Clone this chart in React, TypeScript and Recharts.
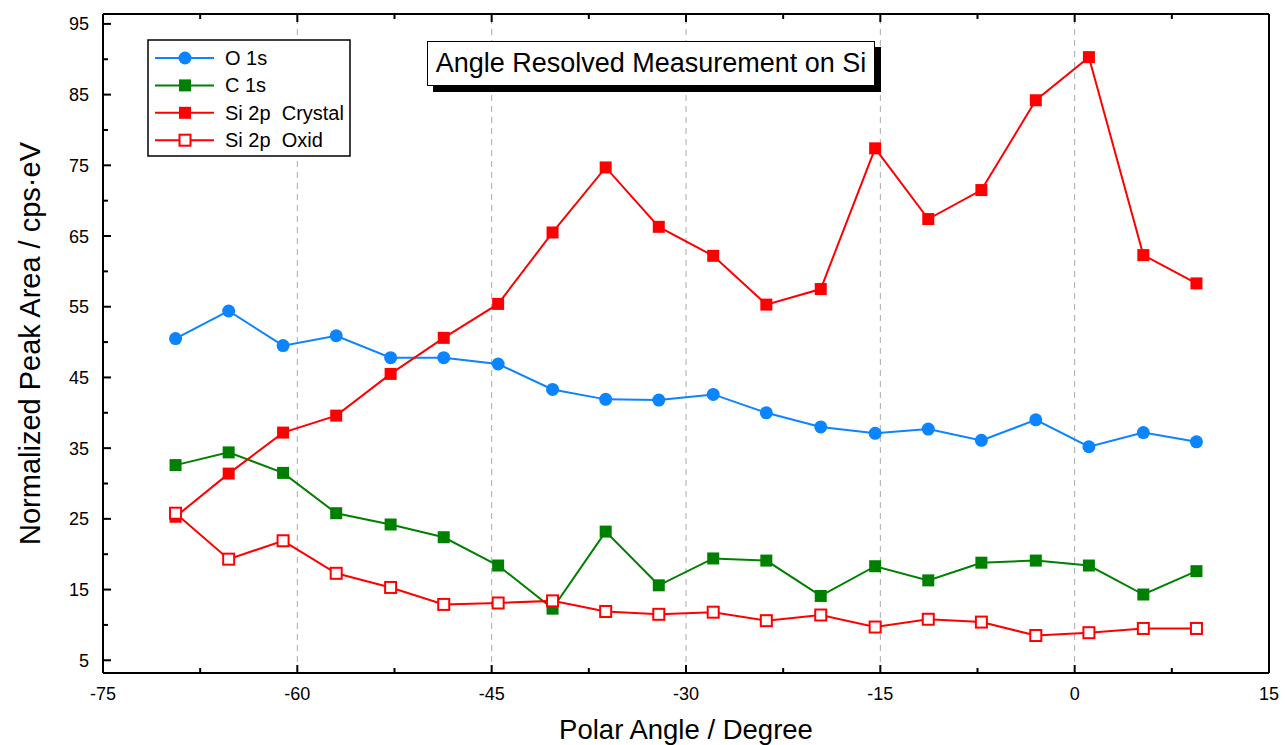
import React from 'react';
import {
  LineChart,
  Line,
  XAxis,
  YAxis,
  ReferenceLine,
  Legend,
} from 'recharts';

const ANGLES = [-69.4, -65.3, -61.1, -57.0, -52.8, -48.7, -44.5, -40.3, -36.2, -32.1, -27.9, -23.8, -19.6, -15.4, -11.3, -7.2, -3.0, 1.1, 5.3, 9.4];
const O_1S = [50.5, 54.4, 49.5, 50.9, 47.8, 47.8, 46.9, 43.3, 41.9, 41.8, 42.6, 40.0, 38.0, 37.1, 37.7, 36.1, 39.0, 35.2, 37.2, 35.9];
const C_1S = [32.6, 34.4, 31.5, 25.8, 24.2, 22.4, 18.4, 12.3, 23.2, 15.6, 19.4, 19.1, 14.1, 18.3, 16.3, 18.8, 19.1, 18.4, 14.3, 17.6];
const SI_CRYSTAL = [25.3, 31.4, 37.2, 39.6, 45.5, 50.6, 55.4, 65.5, 74.7, 66.3, 62.2, 55.3, 57.5, 77.4, 67.4, 71.5, 84.2, 90.3, 62.3, 58.3];
const SI_OXID = [25.8, 19.3, 21.9, 17.3, 15.3, 12.9, 13.1, 13.4, 11.9, 11.5, 11.8, 10.6, 11.4, 9.7, 10.8, 10.4, 8.5, 8.9, 9.5, 9.5];

const X_TICKS = [-75, -67.5, -60, -52.5, -45, -37.5, -30, -22.5, -15, -7.5, 0, 7.5, 15];
const X_MAJOR = [-75, -60, -45, -30, -15, 0, 15];
const Y_TICKS = [5, 10, 15, 20, 25, 30, 35, 40, 45, 50, 55, 60, 65, 70, 75, 80, 85, 90, 95];
const Y_MAJOR = [5, 15, 25, 35, 45, 55, 65, 75, 85, 95];

const FONT = '"Liberation Sans", Arial, sans-serif';
const COLORS = {
  o1s: '#0a84ff',
  c1s: '#008000',
  si: '#ff0000',
};

const data = ANGLES.map((a, i) => ({
  angle: a,
  o1s: O_1S[i],
  c1s: C_1S[i],
  crystal: SI_CRYSTAL[i],
  oxid: SI_OXID[i],
}));

const legendItems = [
  { name: 'O 1s', color: COLORS.o1s, shape: 'circle' },
  { name: 'C 1s', color: COLORS.c1s, shape: 'square' },
  { name: 'Si 2p  Crystal', color: COLORS.si, shape: 'square' },
  { name: 'Si 2p  Oxid', color: COLORS.si, shape: 'open' },
];

function Marker({ cx, cy, shape, color }: { cx: number; cy: number; shape: string; color: string }) {
  if (shape === 'circle') return <circle cx={cx} cy={cy} r={6.5} fill={color} />;
  if (shape === 'open')
    return <rect x={cx - 5.5} y={cy - 5.5} width={11} height={11} fill="#fff" stroke={color} strokeWidth={2} />;
  return <rect x={cx - 6} y={cy - 6} width={12} height={12} fill={color} />;
}

const dotFor = (shape: string, color: string) => (props: any) => {
  const { cx, cy, index } = props;
  if (cx == null || cy == null) return <g key={index} />;
  return (
    <g key={`${shape}-${index}`}>
      <Marker cx={cx} cy={cy} shape={shape} color={color} />
    </g>
  );
};

const tickTextStyle = { fontFamily: FONT, fontSize: 18, fill: '#000' };

function BottomTick({ x, y, payload }: any) {
  const major = X_MAJOR.includes(payload.value);
  return (
    <g>
      <line x1={x} x2={x} y1={y} y2={y - (major ? 8 : 5)} stroke="#000" strokeWidth={2} />
      {major && (
        <text x={x} y={y + 27} textAnchor="middle" style={tickTextStyle}>
          {payload.value}
        </text>
      )}
    </g>
  );
}

function TopTick({ x, y, payload }: any) {
  const major = X_MAJOR.includes(payload.value);
  return <line x1={x} x2={x} y1={y} y2={y + (major ? 8 : 5)} stroke="#000" strokeWidth={2} />;
}

function LeftTick({ x, y, payload }: any) {
  const major = Y_MAJOR.includes(payload.value);
  return (
    <g>
      <line x1={x} x2={x + (major ? 8 : 5)} y1={y} y2={y} stroke="#000" strokeWidth={2} />
      {major && (
        <text x={x - 14} y={y + 6.5} textAnchor="end" style={tickTextStyle}>
          {payload.value}
        </text>
      )}
    </g>
  );
}

function RightTick({ x, y, payload }: any) {
  const major = Y_MAJOR.includes(payload.value);
  return <line x1={x} x2={x - (major ? 8 : 5)} y1={y} y2={y} stroke="#000" strokeWidth={2} />;
}

function LegendBox() {
  return (
    <svg width={204} height={118} style={{ display: 'block' }}>
      <rect x={1} y={1} width={202} height={116} fill="#fff" stroke="#000" strokeWidth={1.5} />
      {legendItems.map((it, i) => {
        const cy = 19 + i * 27.4;
        return (
          <g key={it.name}>
            <line x1={8} x2={67} y1={cy} y2={cy} stroke={it.color} strokeWidth={2} />
            <Marker cx={38} cy={cy} shape={it.shape} color={it.color} />
            <text x={78} y={cy + 7} style={{ fontFamily: FONT, fontSize: 20, fill: '#000', whiteSpace: 'pre' }}>
              {it.name}
            </text>
          </g>
        );
      })}
    </svg>
  );
}

export default function App() {
  return (
    <div style={{ position: 'absolute', left: 0, top: 0, width: 1285, height: 745, background: '#fff' }}>
      <LineChart width={1285} height={745} data={data} margin={{ top: 0, right: 0, bottom: 0, left: 0 }}>
        <XAxis
          xAxisId="b"
          dataKey="angle"
          type="number"
          domain={[-75, 15]}
          ticks={X_TICKS}
          interval={0}
          height={72}
          tickSize={0}
          tickMargin={0}
          tickLine={false}
          axisLine={{ stroke: '#000', strokeWidth: 2 }}
          tick={<BottomTick />}
          label={{
            value: 'Polar Angle / Degree',
            position: 'center',
            dy: 20,
            style: { fontFamily: FONT, fontSize: 27.5, fill: '#000' },
          }}
        />
        <XAxis
          xAxisId="t"
          orientation="top"
          dataKey="angle"
          type="number"
          domain={[-75, 15]}
          ticks={X_TICKS}
          interval={0}
          height={14}
          tickSize={0}
          tickMargin={0}
          tickLine={false}
          axisLine={{ stroke: '#000', strokeWidth: 2 }}
          tick={<TopTick />}
        />
        <YAxis
          yAxisId="l"
          type="number"
          domain={[3.2, 96.4]}
          ticks={Y_TICKS}
          interval={0}
          width={103}
          tickSize={0}
          tickMargin={0}
          tickLine={false}
          axisLine={{ stroke: '#000', strokeWidth: 2 }}
          tick={<LeftTick />}
          label={{
            value: 'Normalized Peak Area / cps·eV',
            angle: -90,
            position: 'center',
            dx: -22,
            style: { fontFamily: FONT, fontSize: 29, fill: '#000' },
          }}
        />
        <YAxis
          yAxisId="r"
          orientation="right"
          type="number"
          domain={[3.2, 96.4]}
          ticks={Y_TICKS}
          interval={0}
          width={16}
          tickSize={0}
          tickMargin={0}
          tickLine={false}
          axisLine={{ stroke: '#000', strokeWidth: 2 }}
          tick={<RightTick />}
        />
        {X_MAJOR.filter((v) => v > -75 && v < 15).map((v) => (
          <ReferenceLine
            key={v}
            x={v}
            xAxisId="b"
            yAxisId="l"
            stroke="#aaa"
            strokeWidth={1}
            strokeDasharray="6 5"
          />
        ))}
        <Legend
          layout="horizontal"
          verticalAlign="middle"
          align="center"
          wrapperStyle={{ left: 147, top: 39, width: 204, height: 118 }}
          content={() => <LegendBox />}
        />
        <Line
          xAxisId="b"
          yAxisId="l"
          type="linear"
          dataKey="o1s"
          name="O 1s"
          stroke={COLORS.o1s}
          strokeWidth={2}
          dot={dotFor('circle', COLORS.o1s)}
          isAnimationActive={false}
        />
        <Line
          xAxisId="b"
          yAxisId="l"
          type="linear"
          dataKey="c1s"
          name="C 1s"
          stroke={COLORS.c1s}
          strokeWidth={2}
          dot={dotFor('square', COLORS.c1s)}
          isAnimationActive={false}
        />
        <Line
          xAxisId="b"
          yAxisId="l"
          type="linear"
          dataKey="crystal"
          name="Si 2p  Crystal"
          stroke={COLORS.si}
          strokeWidth={2}
          dot={dotFor('square', COLORS.si)}
          isAnimationActive={false}
        />
        <Line
          xAxisId="b"
          yAxisId="l"
          type="linear"
          dataKey="oxid"
          name="Si 2p  Oxid"
          stroke={COLORS.si}
          strokeWidth={2}
          dot={dotFor('open', COLORS.si)}
          isAnimationActive={false}
        />
      </LineChart>
      <div
        style={{
          position: 'absolute',
          left: 427,
          top: 41,
          width: 446,
          height: 43,
          border: '1.5px solid #000',
          background: '#fff',
          boxShadow: '6px 6px 0 #000',
          fontFamily: FONT,
          fontSize: 27,
          lineHeight: '43px',
          textAlign: 'center',
          color: '#000',
          whiteSpace: 'nowrap',
        }}
      >
        Angle Resolved Measurement on Si
      </div>
    </div>
  );
}
